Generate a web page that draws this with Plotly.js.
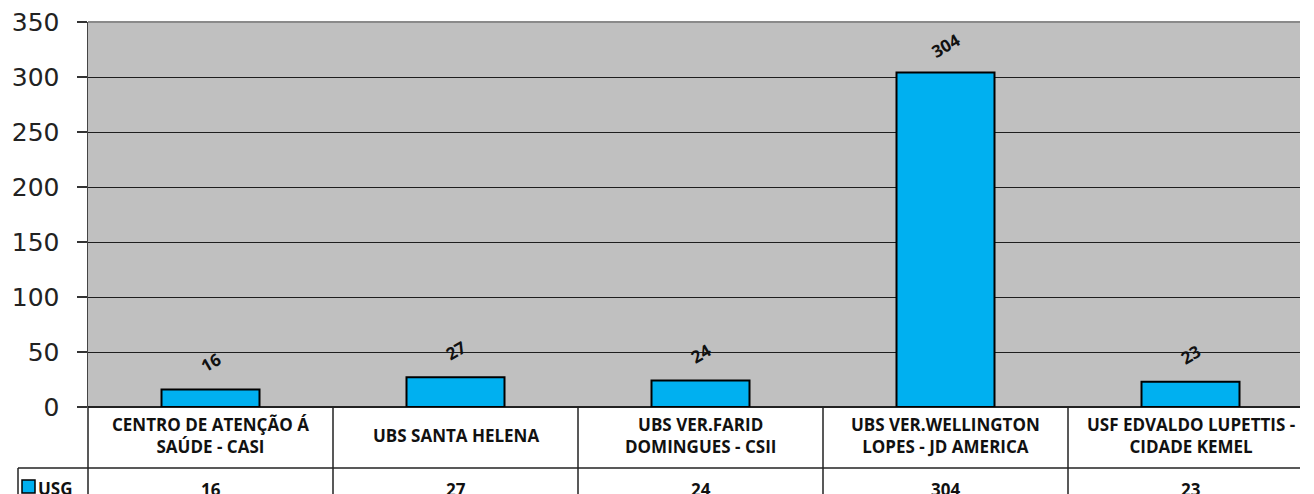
<!DOCTYPE html>
<html>
<head>
<meta charset="utf-8">
<script src="https://cdn.plot.ly/plotly-3.0.1.min.js"></script>
<style>html,body{margin:0;padding:0;background:#fff;}#chart{width:1314px;height:494px;}</style>
</head>
<body>
<div id="chart"></div>
<script>
var categories = [
  "CENTRO DE ATENÇÃO Á<br>SAÚDE - CASI",
  "UBS SANTA HELENA",
  "UBS VER.FARID<br>DOMINGUES - CSII",
  "UBS VER.WELLINGTON<br>LOPES - JD AMERICA",
  "USF EDVALDO LUPETTIS -<br>CIDADE KEMEL"
];
var seriesName = "USG";
var values = [16, 27, 24, 304, 23];
var yTicks = [0, 50, 100, 150, 200, 250, 300, 350];

var W = 1314, H = 494;
var mL = 88, mR = 14, mT = 22, mB = 87;
var plotW = W - mL - mR, plotH = H - mT - mB;
var catPx = 245;
var xr0 = -0.5, xr1 = -0.5 + plotW / catPx;
function px2paperX(px){ return (px - mL) / plotW; }
function px2paperY(py){ return (H - mB - py) / plotH; }
function cat2paper(v){ return (v - xr0) / (xr1 - xr0); }

var xs = categories.map(function(c, i){ return i; });

var trace = {
  type: 'bar',
  x: xs,
  y: values,
  width: 0.4,
  marker: {color: '#00B0F0', line: {color: '#000000', width: 2}},
  hoverinfo: 'none',
  showlegend: false
};

var annotations = [];
values.forEach(function(v, i){
  annotations.push({
    x: i, y: v, xref: 'x', yref: 'y',
    text: '<b>' + v + '</b>', showarrow: false, textangle: -30,
    yshift: 27, xanchor: 'center', yanchor: 'middle',
    font: {family: 'Open Sans', size: 17, color: '#111'}
  });
  annotations.push({
    x: i, y: px2paperY(436), xref: 'x', yref: 'paper',
    text: '<b>' + categories[i] + '</b>', showarrow: false,
    xanchor: 'center', yanchor: 'middle',
    font: {family: 'Open Sans', size: 17, color: '#111'}
  });
  annotations.push({
    x: i, y: px2paperY(489), xref: 'x', yref: 'paper',
    text: '<b>' + v + '</b>', showarrow: false,
    xanchor: 'center', yanchor: 'middle',
    font: {family: 'Open Sans', size: 17, color: '#111'}
  });
});
annotations.push({
  x: px2paperX(36), y: px2paperY(488), xref: 'paper', yref: 'paper',
  text: '<b>' + seriesName + '</b>', showarrow: false,
  xanchor: 'left', yanchor: 'middle',
  font: {family: 'Open Sans', size: 17, color: '#111'}
});

var lineC = '#222';
var shapes = [];
// top border
shapes.push({type:'line', xref:'paper', yref:'paper', x0:0, x1:1, y0:1, y1:1, line:{color:'#8a8a8a', width:2}});
// table horizontal line between rows
shapes.push({type:'line', xref:'paper', yref:'paper', x0:px2paperX(18), x1:1, y0:px2paperY(468), y1:px2paperY(468), line:{color:lineC, width:1.5}});
// left axis extension through table
shapes.push({type:'line', xref:'paper', yref:'paper', x0:0, x1:0, y0:0, y1:px2paperY(500), line:{color:lineC, width:1.5}});
// legend cell left border
shapes.push({type:'line', xref:'paper', yref:'paper', x0:px2paperX(18), x1:px2paperX(18), y0:px2paperY(468), y1:px2paperY(500), line:{color:lineC, width:1.5}});
// category separators
for (var k = 1; k < categories.length; k++) {
  var xp = cat2paper(k - 0.5);
  shapes.push({type:'line', xref:'paper', yref:'paper', x0:xp, x1:xp, y0:0, y1:px2paperY(500), line:{color:lineC, width:1.5}});
}
// legend key
shapes.push({type:'rect', xref:'paper', yref:'paper', x0:px2paperX(22), x1:px2paperX(35), y0:px2paperY(480), y1:px2paperY(493), fillcolor:'#00B0F0', line:{color:'#000', width:1.5}});

var layout = {
  width: W, height: H,
  margin: {l: mL, r: mR, t: mT, b: mB, pad: 0},
  paper_bgcolor: '#ffffff',
  plot_bgcolor: '#C0C0C0',
  bargap: 0.6,
  xaxis: {
    range: [xr0, xr1], showticklabels: false, showgrid: false, zeroline: false,
    ticks: '', showline: false, fixedrange: true
  },
  yaxis: {
    range: [0, 350], tickvals: yTicks, ticktext: yTicks.map(String),
    showgrid: true, gridcolor: '#1e1e1e', gridwidth: 1,
    zeroline: true, zerolinecolor: lineC, zerolinewidth: 1.5,
    showline: true, linecolor: '#444', linewidth: 1.5,
    ticks: 'outside', ticklen: 10, tickcolor: '#333', tickwidth: 1.5,
    ticklabelstandoff: 12,
    tickfont: {family: 'DejaVu Sans', size: 25, color: '#222'},
    fixedrange: true
  },
  annotations: annotations,
  shapes: shapes,
  showlegend: false
};

Plotly.newPlot('chart', [trace], layout, {displayModeBar: false, staticPlot: true});
</script>
</body>
</html>
